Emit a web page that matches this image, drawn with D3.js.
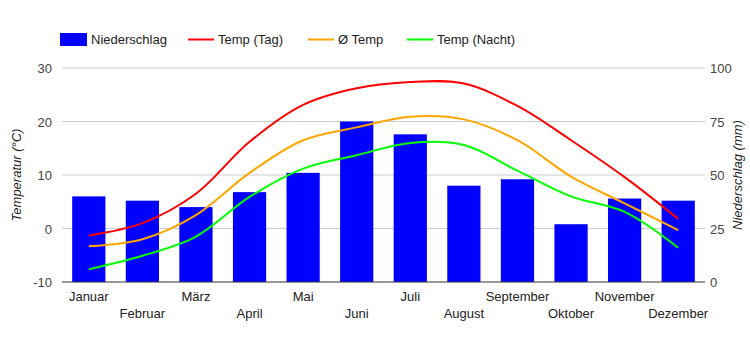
<!DOCTYPE html>
<html>
<head>
<meta charset="utf-8">
<script src="https://cdn.jsdelivr.net/npm/d3@7"></script>
<style>
  body { margin: 0; background: #fff; }
  text { font-family: "Liberation Sans", Arial, sans-serif; }
</style>
</head>
<body>
<svg id="chart" width="750" height="350"></svg>
<script>
const months = ["Januar", "Februar", "März", "April", "Mai", "Juni", "Juli", "August", "September", "Oktober", "November", "Dezember"];
const niederschlag = [40, 38, 35, 42, 51, 75, 69, 45, 48, 27, 39, 38];
const tempTag = [-1.3, 1.0, 6.5, 16.2, 23.1, 26.2, 27.4, 27.1, 22.9, 16.5, 9.6, 1.8];
const tempMittel = [-3.3, -2.0, 2.5, 10.4, 16.5, 18.9, 20.9, 20.4, 16.5, 9.7, 4.7, -0.3];
const tempNacht = [-7.6, -5.1, -1.5, 5.9, 11.2, 13.7, 16.0, 15.6, 10.8, 6.0, 3.1, -3.6];
const tempTicks = [-10, 0, 10, 20, 30];
const rainTicks = [0, 25, 50, 75, 100];

const svg = d3.select("#chart");
const plotLeft = 62, plotRight = 705, plotTop = 68, plotBottom = 282;

const x = d3.scaleBand().domain(months).range([plotLeft, plotRight]).paddingInner(0.38).paddingOuter(0.19);
const yT = d3.scaleLinear().domain([-10, 30]).range([plotBottom, plotTop]);
const yR = d3.scaleLinear().domain([0, 100]).range([plotBottom, plotTop]);

// gridlines
svg.append("g").selectAll("line").data(tempTicks.slice(1)).enter().append("line")
    .attr("x1", plotLeft).attr("x2", plotRight)
    .attr("y1", d => yT(d)).attr("y2", d => yT(d))
    .attr("stroke", "#cccccc").attr("stroke-width", 1);

// bars
svg.append("g").selectAll("rect").data(niederschlag).enter().append("rect")
    .attr("x", (d, i) => x(months[i]))
    .attr("width", x.bandwidth())
    .attr("y", d => yR(d))
    .attr("height", d => plotBottom - yR(d))
    .attr("fill", "#0000ff");

// baseline
svg.append("line").attr("x1", plotLeft).attr("x2", plotRight)
    .attr("y1", plotBottom).attr("y2", plotBottom)
    .attr("stroke", "#333").attr("stroke-width", 1);

// lines
const line = d3.line()
    .x((d, i) => x(months[i]) + x.bandwidth() / 2)
    .y(d => yT(d))
    .curve(d3.curveCatmullRom.alpha(0.5));

[[tempMittel, "#ffa500"], [tempNacht, "#00ff00"], [tempTag, "#ff0000"]].forEach(s => {
    svg.append("path").datum(s[0]).attr("d", line)
        .attr("fill", "none").attr("stroke", s[1]).attr("stroke-width", 2);
});

// left axis labels
svg.append("g").selectAll("text").data(tempTicks).enter().append("text")
    .attr("x", 52).attr("y", d => yT(d) + 5)
    .attr("text-anchor", "end").attr("font-size", 13).attr("fill", "#444")
    .text(d => d);

// right axis labels
svg.append("g").selectAll("text").data(rainTicks).enter().append("text")
    .attr("x", 710).attr("y", d => yR(d) + 5)
    .attr("text-anchor", "start").attr("font-size", 13).attr("fill", "#444")
    .text(d => d);

// axis titles
svg.append("text")
    .attr("transform", "translate(21," + ((plotTop + plotBottom) / 2) + ") rotate(-90)")
    .attr("text-anchor", "middle").attr("font-size", 13).attr("font-style", "italic").attr("fill", "#222")
    .text("Temperatur (°C)");
svg.append("text")
    .attr("transform", "translate(742," + ((plotTop + plotBottom) / 2) + ") rotate(-90)")
    .attr("text-anchor", "middle").attr("font-size", 13).attr("font-style", "italic").attr("fill", "#222")
    .text("Niederschlag (mm)");

// month labels, staggered
svg.append("g").selectAll("text").data(months).enter().append("text")
    .attr("x", d => x(d) + x.bandwidth() / 2)
    .attr("y", (d, i) => i % 2 === 0 ? 301 : 318)
    .attr("text-anchor", "middle").attr("font-size", 13).attr("fill", "#222")
    .text(d => d);

// legend
const legend = svg.append("g");
legend.append("rect").attr("x", 60).attr("y", 33).attr("width", 27).attr("height", 13).attr("fill", "#0000ff");
legend.append("text").attr("x", 91).attr("y", 44).attr("font-size", 13).attr("fill", "#222").text("Niederschlag");
[["Temp (Tag)", "#ff0000", 188], ["Ø Temp", "#ffa500", 308], ["Temp (Nacht)", "#00ff00", 407]].forEach(l => {
    legend.append("line").attr("x1", l[2]).attr("x2", l[2] + 26).attr("y1", 39.5).attr("y2", 39.5)
        .attr("stroke", l[1]).attr("stroke-width", 2);
    legend.append("text").attr("x", l[2] + 30).attr("y", 44).attr("font-size", 13).attr("fill", "#222").text(l[0]);
});
</script>
</body>
</html>
